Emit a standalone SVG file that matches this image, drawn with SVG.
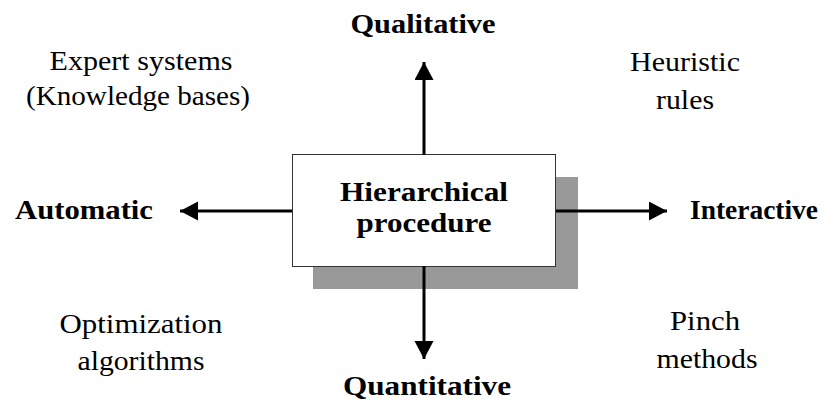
<svg xmlns="http://www.w3.org/2000/svg" width="836" height="412" viewBox="0 0 836 412">
<style>
text{font-family:"Liberation Serif","Times New Roman",serif;font-size:28px;fill:#000;text-anchor:middle}
.b{font-weight:bold}
.c{stroke:#000;stroke-width:3;fill:none}
</style>
<defs>
<marker id="ah" markerUnits="userSpaceOnUse" markerWidth="20" markerHeight="20" refX="18" refY="9.5" orient="auto">
<path d="M0,0 L18,9.5 L0,19 z" fill="#000"/>
</marker>
</defs>
<rect width="836" height="412" fill="#fff"/>
<g id="hierarchical-procedure">
<rect x="313" y="177" width="265" height="112" fill="#999"/>
<rect x="292.5" y="154.5" width="263" height="112" fill="#fff" stroke="#333" stroke-width="1"/>
<text class="b" x="424" y="201" textLength="168" lengthAdjust="spacingAndGlyphs">Hierarchical</text>
<text class="b" x="424" y="232" textLength="135" lengthAdjust="spacingAndGlyphs">procedure</text>
</g>
<g id="qualitative"><text class="b" x="423" y="33" textLength="145" lengthAdjust="spacingAndGlyphs">Qualitative</text></g>
<g id="quantitative"><text class="b" x="427" y="395" textLength="168" lengthAdjust="spacingAndGlyphs">Quantitative</text></g>
<g id="automatic"><text class="b" x="84" y="219" textLength="138" lengthAdjust="spacingAndGlyphs">Automatic</text></g>
<g id="interactive"><text class="b" x="754" y="219" textLength="128" lengthAdjust="spacingAndGlyphs">Interactive</text></g>
<g id="expert-systems">
<text x="141" y="70" textLength="183" lengthAdjust="spacingAndGlyphs">Expert systems</text>
<text x="138" y="105" textLength="224" lengthAdjust="spacingAndGlyphs">(Knowledge bases)</text>
</g>
<g id="heuristic-rules">
<text x="685" y="71" textLength="110" lengthAdjust="spacingAndGlyphs">Heuristic</text>
<text x="685" y="109" textLength="58" lengthAdjust="spacingAndGlyphs">rules</text>
</g>
<g id="optimization-algorithms">
<text x="141" y="333" textLength="163" lengthAdjust="spacingAndGlyphs">Optimization</text>
<text x="141" y="370" textLength="127" lengthAdjust="spacingAndGlyphs">algorithms</text>
</g>
<g id="pinch-methods">
<text x="705" y="330" textLength="70" lengthAdjust="spacingAndGlyphs">Pinch</text>
<text x="707" y="368" textLength="101" lengthAdjust="spacingAndGlyphs">methods</text>
</g>
<g id="connectors">
<line class="c" x1="424" y1="155" x2="424" y2="62" marker-end="url(#ah)"/>
<line class="c" x1="424" y1="266" x2="424" y2="359" marker-end="url(#ah)"/>
<line class="c" x1="292" y1="211" x2="180" y2="211" marker-end="url(#ah)"/>
<line class="c" x1="556" y1="211" x2="667" y2="211" marker-end="url(#ah)"/>
</g>
</svg>
